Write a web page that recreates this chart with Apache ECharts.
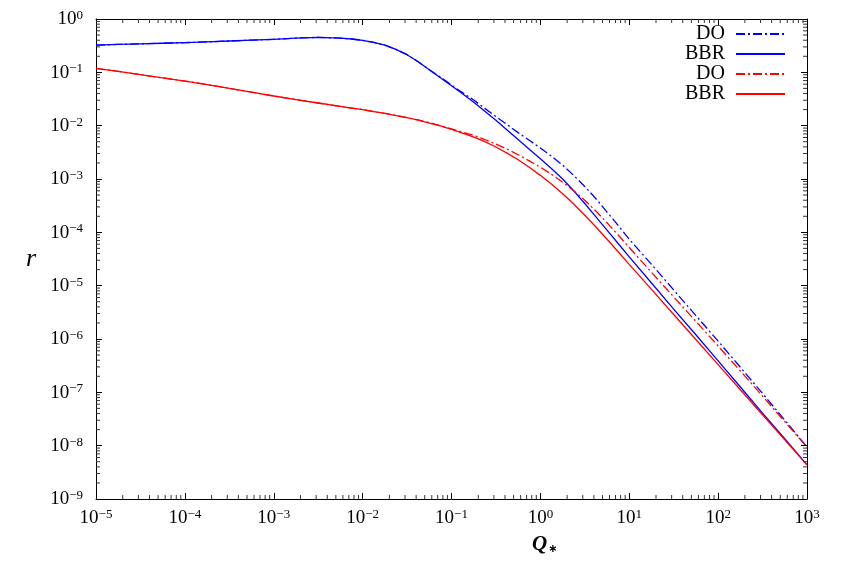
<!DOCTYPE html>
<html><head><meta charset="utf-8">
<script src="https://cdn.jsdelivr.net/npm/echarts@6/dist/echarts.min.js"></script>
<style>html,body{margin:0;padding:0;background:#fff}#c{width:843px;height:562px}</style>
</head><body><div id="c"></div>
<script>
// Q values (x) shared by all curves
const Q = [1e-5, 1.78e-5, 3.16e-5, 5.62e-5, 1e-4, 1.78e-4, 3.16e-4, 5.62e-4, 1e-3, 1.78e-3, 3.16e-3, 5.62e-3, 7.5e-3, 1e-2, 1.33e-2, 1.78e-2, 2.37e-2, 3.16e-2, 4.22e-2, 5.62e-2, 7.5e-2, 0.1, 0.133, 0.178, 0.237, 0.316, 0.422, 0.562, 0.75, 1, 1.33, 1.78, 2.37, 3.16, 4.22, 5.62, 7.5, 10, 17.8, 31.6, 56.2, 100, 178, 316, 562, 1000];
// r values
const blueDO  = [0.325, 0.333, 0.342, 0.351, 0.360, 0.373, 0.387, 0.402, 0.416, 0.439, 0.452, 0.437, 0.422, 0.398, 0.363, 0.324, 0.269, 0.214, 0.158, 0.112, 0.0813, 0.0575, 0.0417, 0.0302, 0.0211, 0.0148, 0.0105, 0.00741, 0.00531, 0.0038, 0.00269, 0.00182, 0.00117, 7.24e-4, 4.27e-4, 2.40e-4, 1.35e-4, 7.41e-5, 2.51e-5, 8.32e-6, 2.75e-6, 9.12e-7, 2.95e-7, 9.55e-8, 3.02e-8, 9.44e-9];
const blueBBR = [0.325, 0.333, 0.342, 0.351, 0.360, 0.373, 0.387, 0.402, 0.416, 0.439, 0.452, 0.437, 0.422, 0.398, 0.363, 0.324, 0.269, 0.214, 0.158, 0.112, 0.0794, 0.0562, 0.0398, 0.0275, 0.0186, 0.0126, 0.00832, 0.0055, 0.00363, 0.0024, 0.00158, 0.001, 6.03e-4, 3.47e-4, 1.95e-4, 1.10e-4, 6.17e-5, 3.47e-5, 1.12e-5, 3.63e-6, 1.20e-6, 3.89e-7, 1.26e-7, 4.07e-8, 1.35e-8, 4.37e-9];
const redDO   = [0.119, 0.104, 0.0902, 0.0787, 0.0687, 0.0589, 0.0501, 0.0425, 0.036, 0.0309, 0.0266, 0.0229, 0.0214, 0.020, 0.0184, 0.017, 0.0155, 0.0141, 0.0128, 0.0114, 0.0100, 0.00871, 0.00759, 0.00653, 0.0055, 0.00452, 0.00363, 0.00285, 0.00219, 0.00166, 0.00123, 8.71e-4, 6.03e-4, 3.98e-4, 2.51e-4, 1.51e-4, 8.91e-5, 5.19e-5, 1.78e-5, 6.17e-6, 2.14e-6, 7.41e-7, 2.51e-7, 8.51e-8, 2.82e-8, 9.44e-9];
const redBBR  = [0.119, 0.104, 0.0902, 0.0787, 0.0687, 0.0589, 0.0501, 0.0425, 0.036, 0.0309, 0.0266, 0.0229, 0.0214, 0.020, 0.0184, 0.017, 0.0155, 0.0141, 0.0127, 0.0112, 0.00989, 0.00851, 0.00724, 0.0061, 0.00501, 0.00398, 0.00305, 0.00229, 0.00166, 0.00117, 8.04e-4, 5.31e-4, 3.39e-4, 2.09e-4, 1.26e-4, 7.41e-5, 4.32e-5, 2.51e-5, 8.51e-6, 2.88e-6, 9.77e-7, 3.31e-7, 1.12e-7, 3.80e-8, 1.29e-8, 4.37e-9];
const seriesNames = ['DO-b', 'BBR-b', 'DO-r', 'BBR-r'];
const legendLabels = {'DO-b': 'DO', 'BBR-b': 'BBR', 'DO-r': 'DO', 'BBR-r': 'BBR'};
const xMin = 1e-5, xMax = 1e3, yMin = 1e-9, yMax = 1;
const xDecades = [-5, -4, -3, -2, -1, 0, 1, 2];
const yDecades = [-9, -8, -7, -6, -5, -4, -3, -2, -1];
const mantissas = [2, 3, 4, 5, 6, 7, 8, 9];

const xMinor = [], yMinor = [];
xDecades.forEach(d => mantissas.forEach(m => xMinor.push(m * Math.pow(10, d))));
yDecades.forEach(d => mantissas.forEach(m => yMinor.push(m * Math.pow(10, d))));

const FONT = 'Liberation Serif';
function pow10Label(v) {
  const e = Math.round(Math.log10(v));
  const s = e < 0 ? '\u2212' + (-e) : String(e);
  return '{b|10}{s|' + s + '}';
}
const labelRich = {
  b: {fontFamily: FONT, fontSize: 19, color: '#000', lineHeight: 20, verticalAlign: 'bottom'},
  s: {fontFamily: FONT, fontSize: 13, color: '#000', lineHeight: 20, verticalAlign: 'top'}
};
const pair = arr => Q.map((q, i) => [q, arr[i]]);
const dashDot = [9, 3, 2, 3];

function lineSeries(name, data, color, dashed) {
  return {
    name, type: 'line', data: pair(data), showSymbol: false, symbol: 'none',
    smooth: false, silent: true,
    lineStyle: {color, width: 1.3, type: dashed ? dashDot : 'solid', join: 'round'},
    itemStyle: {color}, z: 3
  };
}

const chart = echarts.init(document.getElementById('c'), null, {renderer: 'canvas'});
const axisLine = {show: true, onZero: false, lineStyle: {color: '#000', width: 1}};
chart.setOption({
  animation: false,
  backgroundColor: '#fff',
  grid: {left: 96, right: 36, top: 19, bottom: 63},
  title: {
    text: '{q|Q}{s|\u2217}', left: 532, top: 534, padding: 0,
    textStyle: {rich: {
      q: {fontFamily: FONT, fontStyle: 'italic', fontSize: 21, color: '#000', verticalAlign: 'top'},
      s: {fontFamily: 'DejaVu Sans', fontSize: 11, color: '#000', verticalAlign: 'bottom', padding: [10, 0, 0, 1]}
    }}
  },
  legend: {
    orient: 'vertical', right: 57, top: 24, align: 'right', padding: 0,
    itemWidth: 49, itemHeight: 18, itemGap: 0, selectedMode: false,
    data: seriesNames, formatter: n => legendLabels[n],
    itemStyle: {opacity: 0},
    textStyle: {fontFamily: FONT, fontSize: 20, color: '#000', lineHeight: 18, padding: [0, 6, 0, 0]}
  },
  xAxis: [{
    type: 'log', logBase: 10, min: xMin, max: xMax, splitNumber: 8,
    axisLine, splitLine: {show: false},
    axisTick: {show: true, inside: true, length: 6, lineStyle: {color: '#000'}},
    axisLabel: {margin: 9, formatter: pow10Label, rich: labelRich}
  }, {
    type: 'log', logBase: 10, min: xMin, max: xMax, splitNumber: 8, position: 'top',
    axisLine, splitLine: {show: false},
    axisTick: {show: true, inside: true, length: 6, lineStyle: {color: '#000'}},
    axisLabel: {show: false}
  }],
  yAxis: [{
    type: 'log', logBase: 10, min: yMin, max: yMax, splitNumber: 9,
    axisLine, splitLine: {show: false},
    name: 'r', nameLocation: 'middle', nameGap: 60, nameRotate: 0,
    nameTextStyle: {fontFamily: FONT, fontStyle: 'italic', fontSize: 26, color: '#000'},
    axisTick: {show: true, inside: true, length: 6, lineStyle: {color: '#000'}},
    axisLabel: {margin: 13, formatter: pow10Label, rich: labelRich}
  }, {
    type: 'log', logBase: 10, min: yMin, max: yMax, splitNumber: 9, position: 'right',
    axisLine, splitLine: {show: false},
    axisTick: {show: true, inside: true, length: 6, lineStyle: {color: '#000'}},
    axisLabel: {show: false}
  }],
  series: [
    lineSeries('DO-b', blueDO, '#0000ff', true),
    lineSeries('BBR-b', blueBBR, '#0000ff', false),
    lineSeries('DO-r', redDO, '#ff0000', true),
    lineSeries('BBR-r', redBBR, '#ff0000', false),
    {
      type: 'custom', silent: true, z: 5,
      data: xMinor.map(v => [v, yMin]),
      renderItem: (params, api) => {
        const b = api.coord([api.value(0), yMin]);
        const t = api.coord([api.value(0), yMax]);
        const st = {stroke: '#333', lineWidth: 1};
        return {type: 'group', children: [
          {type: 'line', shape: {x1: b[0], y1: b[1], x2: b[0], y2: b[1] - 4}, style: st},
          {type: 'line', shape: {x1: t[0], y1: t[1], x2: t[0], y2: t[1] + 4}, style: st}
        ]};
      }
    },
    {
      type: 'custom', silent: true, z: 5,
      data: yMinor.map(v => [xMin, v]),
      renderItem: (params, api) => {
        const l = api.coord([xMin, api.value(1)]);
        const r = api.coord([xMax, api.value(1)]);
        const st = {stroke: '#333', lineWidth: 1};
        return {type: 'group', children: [
          {type: 'line', shape: {x1: l[0], y1: l[1], x2: l[0] + 4, y2: l[1]}, style: st},
          {type: 'line', shape: {x1: r[0], y1: r[1], x2: r[0] - 4, y2: r[1]}, style: st}
        ]};
      }
    }
  ]
});
</script></body></html>
